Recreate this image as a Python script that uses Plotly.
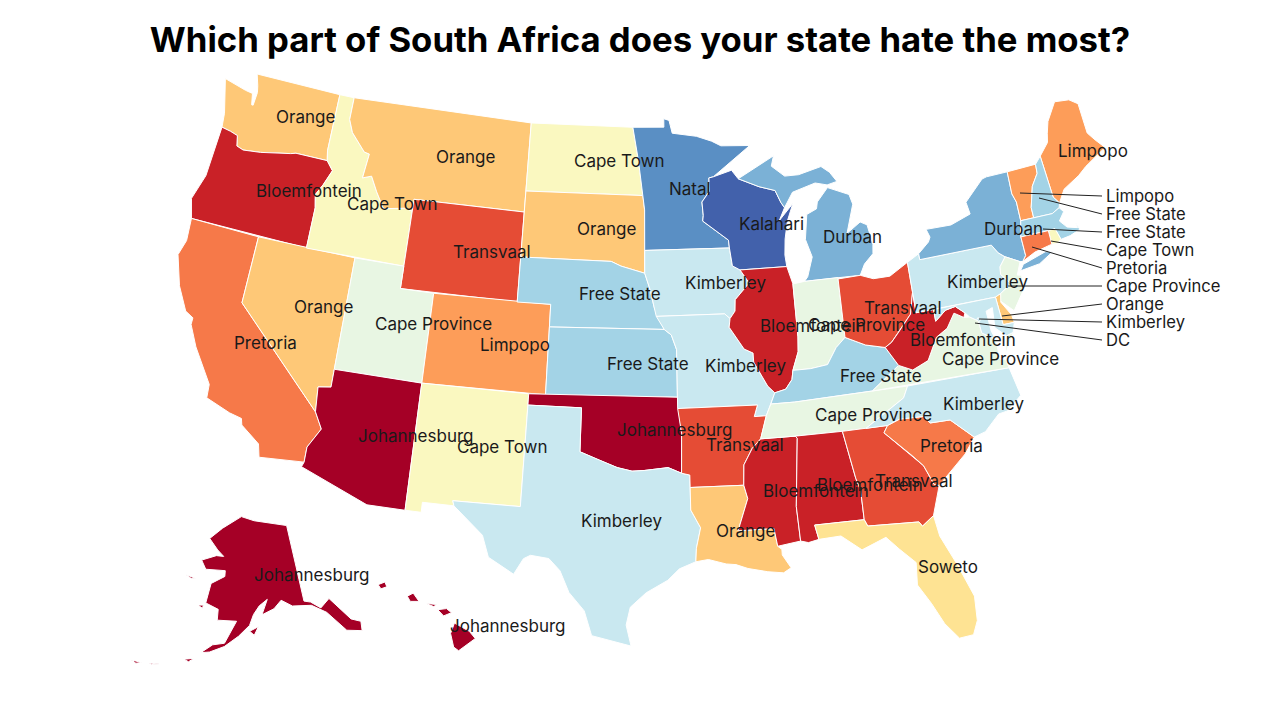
import numpy as np
import plotly.graph_objects as go

states = ["WA","OR","CA","NV","ID","MT","WY","UT","AZ","CO","NM","ND","SD","NE","KS","OK","TX",
          "MN","IA","MO","AR","LA","WI","IL","MS","MI","IN","KY","TN","AL","OH","GA","FL","SC",
          "NC","VA","WV","PA","NY","ME","VT","NH","MA","RI","CT","NJ","DE","MD","DC","AK","HI"]
regions = ["Orange","Bloemfontein","Pretoria","Orange","Cape Town","Orange","Transvaal","Cape Province",
           "Johannesburg","Limpopo","Cape Town","Cape Town","Orange","Free State","Free State","Johannesburg",
           "Kimberley","Natal","Kimberley","Kimberley","Transvaal","Orange","Kalahari","Bloemfontein",
           "Bloemfontein","Durban","Cape Province","Free State","Cape Province","Bloemfontein","Transvaal",
           "Transvaal","Soweto","Pretoria","Kimberley","Cape Province","Bloemfontein","Kimberley","Durban",
           "Limpopo","Limpopo","Free State","Free State","Cape Town","Pretoria","Cape Province","Orange",
           "Kimberley","Kimberley","Johannesburg","Johannesburg"]
region_order = ["Johannesburg","Bloemfontein","Transvaal","Pretoria","Limpopo","Orange","Soweto","Cape Town",
                "Cape Province","Kimberley","Free State","Durban","Natal","Kalahari"]
region_colors = ["#a50026","#c92127","#e54c35","#f67949","#fd9d59","#fec877","#fee393","#faf8c0",
                 "#e8f6e3","#c9e8f0","#a3d3e6","#7bb1d6","#5a8fc4","#4261ab"]

# small states labelled off to the right, top to bottom
side_regions = ["Limpopo","Free State","Free State","Cape Town","Pretoria","Cape Province","Orange","Kimberley","DC"]

# plotly's topojson sits on a CDN and can't load offline, so rough lon/lat outlines by hand
# None starts a new island / separate piece
outlines = {
    "WA": [(-124.7,48.4),(-123.2,48.15),(-122.7,48.1),(-122.55,47.6),(-122.45,47.6),(-122.4,48.2),(-122.5,48.5),(-122.75,49.0),(-117.03,49.0),(-117.04,46.42),(-116.92,45.99),(-118.98,46.0),(-119.3,45.93),(-121.2,45.65),(-122.3,45.55),(-122.75,45.65),(-122.9,46.1),(-123.4,46.2),(-124.0,46.27),(-124.1,46.9)],
    "OR": [(-124.0,46.27),(-123.4,46.2),(-122.9,46.1),(-122.75,45.65),(-122.3,45.55),(-121.2,45.65),(-119.3,45.93),(-118.98,46.0),(-116.92,45.99),(-116.46,45.6),(-116.85,44.9),(-117.2,44.4),(-117.03,43.83),(-117.03,42.0),(-124.2,42.0),(-124.55,42.85),(-124.1,44.0)],
    "CA": [(-124.2,42.0),(-120.0,42.0),(-120.0,39.0),(-114.63,35.0),(-114.14,34.3),(-114.72,33.4),(-114.72,32.72),(-117.12,32.53),(-117.3,33.1),(-118.4,33.75),(-118.5,34.03),(-119.2,34.15),(-120.6,34.55),(-120.65,35.15),(-121.9,36.6),(-122.5,37.5),(-122.5,37.8),(-123.0,38.0),(-123.75,39.0),(-124.35,40.3),(-124.1,41.0)],
    "NV": [(-120,42),(-114.04,42),(-114.04,36.2),(-114.75,36.1),(-114.63,35.0),(-120,39)],
    "ID": [(-117.03,49),(-116.05,49),(-116.05,48.0),(-115.7,47.45),(-114.7,46.7),(-114.35,46.65),(-114.5,45.55),(-113.95,45.7),(-113.45,45.05),(-112.85,44.37),(-111.5,44.55),(-111.05,44.47),(-111.05,42.0),(-117.03,42.0),(-117.03,43.83),(-117.2,44.4),(-116.85,44.9),(-116.46,45.6),(-116.92,45.99),(-117.04,46.42)],
    "MT": [(-116.05,49),(-104.05,49),(-104.05,45),(-111.05,45),(-111.05,44.47),(-111.5,44.55),(-112.85,44.37),(-113.45,45.05),(-113.95,45.7),(-114.5,45.55),(-114.35,46.65),(-114.7,46.7),(-115.7,47.45),(-116.05,48.0)],
    "WY": [(-111.05,45),(-104.05,45),(-104.05,41),(-111.05,41)],
    "UT": [(-114.04,42),(-111.05,42),(-111.05,41),(-109.05,41),(-109.05,37),(-114.04,37)],
    "AZ": [(-114.04,37),(-109.05,37),(-109.05,31.33),(-111.07,31.33),(-114.81,32.5),(-114.72,32.72),(-114.72,33.4),(-114.14,34.3),(-114.63,35.0),(-114.75,36.1),(-114.04,36.2)],
    "CO": [(-109.05,41),(-102.05,41),(-102.05,37),(-109.05,37)],
    "NM": [(-109.05,37),(-103.0,37),(-103.04,32),(-106.62,32),(-106.53,31.78),(-108.2,31.78),(-108.2,31.33),(-109.05,31.33)],
    "ND": [(-104.05,49),(-97.23,49),(-96.85,47.5),(-96.56,45.94),(-104.05,45.94)],
    "SD": [(-104.05,45.94),(-96.56,45.94),(-96.45,45.3),(-96.45,42.49),(-97.9,42.8),(-98.5,43.0),(-104.05,43.0)],
    "NE": [(-104.05,43),(-98.5,43),(-97.9,42.8),(-96.45,42.49),(-96.1,41.7),(-95.9,41.0),(-95.31,40.0),(-102.05,40),(-102.05,41),(-104.05,41)],
    "KS": [(-102.05,40),(-95.31,40),(-94.9,39.75),(-94.61,39.1),(-94.62,37),(-102.05,37)],
    "OK": [(-103.0,37),(-94.62,37),(-94.43,35.4),(-94.48,33.64),(-95.2,33.9),(-96.5,33.78),(-97.15,33.75),(-97.95,33.9),(-98.9,34.2),(-100,34.56),(-100,36.5),(-103,36.5)],
    "TX": [(-106.62,32),(-103.04,32),(-103,36.5),(-100,36.5),(-100,34.56),(-98.9,34.2),(-97.95,33.9),(-97.15,33.75),(-96.5,33.78),(-95.2,33.9),(-94.48,33.64),(-94.04,33.55),(-94.04,32),(-93.55,31.2),(-93.8,30.3),(-93.85,29.7),(-94.7,29.4),(-95.3,28.9),(-96.4,28.35),(-97.2,27.7),(-97.4,26.9),(-97.15,25.96),(-99.1,26.4),(-99.5,27.5),(-100.3,28.3),(-100.8,29.25),(-101.4,29.77),(-102.35,29.87),(-102.7,29.7),(-103.15,28.98),(-104.5,29.65),(-104.9,30.6),(-106.53,31.78)],
    "MN": [(-97.23,49),(-95.15,49),(-95.15,49.38),(-94.8,49.3),(-94.6,48.72),(-93.0,48.55),(-92.0,48.3),(-91.4,48.07),(-89.5,48.0),(-92.0,46.7),(-92.29,46.66),(-92.29,46.07),(-92.8,45.6),(-92.75,45.0),(-92.8,44.75),(-91.25,43.85),(-91.22,43.5),(-96.45,43.5),(-96.45,45.3),(-96.56,45.94),(-96.85,47.5)],
    "IA": [(-96.45,43.5),(-91.22,43.5),(-91.1,42.7),(-90.65,42.5),(-90.15,41.9),(-91.05,41.2),(-91.1,40.7),(-91.42,40.38),(-91.72,40.6),(-95.77,40.58),(-95.9,41.0),(-96.1,41.7),(-96.45,42.49)],
    "MO": [(-95.77,40.58),(-91.72,40.6),(-91.42,40.38),(-91.5,40.0),(-90.7,39.0),(-90.2,38.8),(-90.2,38.4),(-89.5,37.3),(-89.13,36.98),(-89.4,36.5),(-89.7,36.0),(-90.37,36.0),(-90.15,36.5),(-94.62,36.5),(-94.62,37),(-94.61,39.1),(-94.9,39.75),(-95.31,40)],
    "AR": [(-94.62,36.5),(-90.15,36.5),(-90.37,36.0),(-89.7,36.0),(-90.1,35.0),(-90.6,34.6),(-91.1,33.9),(-91.17,33.0),(-94.04,33.0),(-94.04,33.55),(-94.48,33.64),(-94.43,35.4)],
    "LA": [(-94.04,33.0),(-91.17,33.0),(-91.0,32.4),(-91.6,31.0),(-89.73,31.0),(-89.6,30.2),(-89.4,30.05),(-89.4,29.8),(-89.0,29.2),(-89.4,29.0),(-90.2,29.1),(-91.2,29.3),(-91.8,29.5),(-92.3,29.55),(-93.2,29.78),(-93.85,29.7),(-93.8,30.3),(-93.55,31.2),(-94.04,32)],
    "WI": [(-92.29,46.66),(-92.0,46.7),(-90.8,46.95),(-90.4,46.55),(-89.1,46.13),(-88.1,45.9),(-87.8,45.35),(-87.6,45.1),(-88.0,44.55),(-87.05,45.25),(-87.5,44.5),(-87.75,43.7),(-87.85,43.0),(-87.8,42.49),(-90.65,42.5),(-91.1,42.7),(-91.22,43.5),(-91.25,43.85),(-92.8,44.75),(-92.75,45.0),(-92.8,45.6),(-92.29,46.07)],
    "IL": [(-90.65,42.5),(-87.8,42.49),(-87.53,41.7),(-87.53,39.35),(-87.6,38.7),(-88.0,37.9),(-88.1,37.5),(-88.5,37.1),(-89.13,36.98),(-89.5,37.3),(-90.2,38.4),(-90.2,38.8),(-90.7,39.0),(-91.5,40.0),(-91.42,40.38),(-91.1,40.7),(-91.05,41.2),(-90.15,41.9)],
    "MS": [(-90.1,35.0),(-88.2,35.0),(-88.1,34.9),(-88.47,31.9),(-88.4,30.35),(-89.6,30.2),(-89.73,31.0),(-91.6,31.0),(-91.0,32.4),(-91.17,33.0),(-91.1,33.9),(-90.6,34.6)],
    "AL": [(-88.2,35.0),(-85.6,35.0),(-85.18,32.87),(-85.0,32.3),(-85.0,31.0),(-87.6,31.0),(-87.45,30.35),(-88.0,30.25),(-88.4,30.35),(-88.47,31.9),(-88.1,34.9)],
    "MI": [(-86.82,41.76),(-84.8,41.76),(-83.45,41.73),(-83.1,42.2),(-82.5,42.6),(-82.42,43.0),(-82.6,43.9),(-83.0,44.07),(-83.9,43.65),(-83.3,44.9),(-83.45,45.35),(-84.75,45.78),(-85.5,45.2),(-85.6,44.9),(-86.25,44.7),(-86.5,43.6),(-86.2,42.8),(-86.6,41.95),None,
           (-90.4,46.55),(-89.1,46.13),(-88.1,45.9),(-87.8,45.35),(-87.6,45.1),(-87.0,45.75),(-85.5,46.05),(-84.75,45.9),(-84.1,46.0),(-84.5,46.45),(-85.0,46.75),(-86.5,46.5),(-87.4,46.5),(-88.2,47.0),(-88.0,47.45),(-89.6,46.85)],
    "IN": [(-87.53,41.7),(-86.82,41.76),(-84.8,41.76),(-84.82,39.1),(-85.4,38.7),(-86.0,38.0),(-87.0,37.9),(-88.0,37.9),(-87.6,38.7),(-87.53,39.35)],
    "OH": [(-84.8,41.7),(-83.45,41.73),(-82.7,41.5),(-81.7,41.5),(-80.52,41.98),(-80.52,40.64),(-80.85,39.7),(-81.7,39.0),(-82.2,38.6),(-82.6,38.42),(-83.7,38.65),(-84.82,39.1)],
    "KY": [(-89.13,36.98),(-88.5,37.1),(-88.1,37.5),(-88.0,37.9),(-87.0,37.9),(-86.0,38.0),(-85.4,38.7),(-84.82,39.1),(-83.7,38.65),(-82.6,38.42),(-82.0,37.55),(-83.67,36.6),(-88.05,36.5),(-89.4,36.5)],
    "TN": [(-89.7,36.0),(-89.4,36.5),(-88.05,36.5),(-83.67,36.6),(-81.68,36.59),(-82.0,36.1),(-84.3,35.0),(-85.6,35.0),(-88.2,35.0),(-90.1,35.0)],
    "GA": [(-85.6,35.0),(-83.1,35.0),(-83.35,34.7),(-82.0,33.5),(-81.5,33.0),(-81.1,32.1),(-80.85,32.03),(-81.4,30.75),(-82.05,30.36),(-82.2,30.57),(-84.86,30.7),(-85.0,31.0),(-85.0,32.3),(-85.18,32.87)],
    "FL": [(-87.6,31.0),(-85.0,31.0),(-84.86,30.7),(-82.2,30.57),(-82.05,30.36),(-81.4,30.75),(-81.25,29.8),(-80.6,28.4),(-80.03,26.9),(-80.1,25.8),(-80.4,25.2),(-81.1,25.15),(-81.7,25.9),(-82.2,26.9),(-82.75,27.8),(-82.65,28.8),(-83.4,29.5),(-84.0,30.1),(-85.3,29.68),(-86.3,30.4),(-87.45,30.35)],
    "SC": [(-83.1,35.0),(-82.4,35.2),(-81.05,35.15),(-80.78,34.82),(-79.67,34.8),(-78.55,33.86),(-79.2,33.2),(-79.9,32.7),(-80.85,32.03),(-81.1,32.1),(-81.5,33.0),(-82.0,33.5),(-83.35,34.7)],
    "NC": [(-84.3,35.0),(-83.1,35.0),(-82.4,35.2),(-81.05,35.15),(-80.78,34.82),(-79.67,34.8),(-78.55,33.86),(-77.9,34.0),(-77.0,34.65),(-76.5,34.7),(-75.6,35.25),(-75.9,36.55),(-81.68,36.59),(-82.0,36.1)],
    "VA": [(-83.67,36.6),(-75.9,36.55),(-76.0,36.95),(-76.3,37.0),(-76.3,37.9),(-77.0,38.3),(-77.05,38.85),(-77.5,39.1),(-77.83,39.13),(-78.35,39.4),(-78.9,38.8),(-79.6,38.5),(-80.3,37.55),(-81.25,37.25),(-82.0,37.55),None,
           (-75.24,38.03),(-75.65,37.95),(-75.95,37.15)],
    "WV": [(-82.6,38.42),(-82.2,38.6),(-81.7,39.0),(-80.85,39.7),(-80.52,40.64),(-80.52,39.72),(-79.48,39.72),(-79.48,39.2),(-78.8,39.6),(-78.2,39.68),(-77.72,39.32),(-77.83,39.13),(-78.35,39.4),(-78.9,38.8),(-79.6,38.5),(-80.3,37.55),(-81.25,37.25),(-82.0,37.55)],
    "PA": [(-80.52,41.98),(-79.76,42.27),(-79.76,42.0),(-75.35,42.0),(-75.05,41.6),(-74.7,41.36),(-75.13,40.98),(-75.2,40.65),(-74.72,40.15),(-75.45,39.82),(-75.79,39.72),(-80.52,39.72),(-80.52,40.64)],
    "NY": [(-79.76,42.27),(-79.05,42.7),(-78.9,42.9),(-79.05,43.27),(-77.5,43.25),(-76.2,43.55),(-76.3,44.1),(-75.0,44.95),(-74.7,45.0),(-73.35,45.0),(-73.4,44.0),(-73.25,43.6),(-73.27,42.75),(-73.5,42.05),(-73.49,41.2),(-73.73,40.98),(-73.9,41.0),(-74.7,41.36),(-75.05,41.6),(-75.35,42.0),(-79.76,42.0),None,
           (-74.0,40.6),(-73.75,40.85),(-72.3,41.15),(-71.87,41.07),(-72.8,40.7)],
    "ME": [(-71.08,45.3),(-70.4,45.8),(-70.25,46.2),(-70.0,46.7),(-69.23,47.46),(-68.3,47.36),(-67.8,47.07),(-67.8,45.7),(-67.45,45.3),(-67.0,44.85),(-68.5,44.3),(-69.1,44.0),(-70.2,43.6),(-70.7,43.07),(-70.98,43.4)],
    "VT": [(-73.35,45.0),(-71.5,45.01),(-71.55,44.6),(-72.05,44.1),(-72.45,43.2),(-72.46,42.73),(-73.27,42.75),(-73.25,43.6),(-73.4,44.0)],
    "NH": [(-71.5,45.01),(-71.08,45.3),(-70.98,43.4),(-70.7,43.07),(-70.8,42.87),(-71.3,42.7),(-72.46,42.73),(-72.45,43.2),(-72.05,44.1),(-71.55,44.6)],
    "MA": [(-73.27,42.75),(-71.3,42.7),(-70.8,42.87),(-70.6,42.65),(-71.0,42.3),(-70.65,41.95),(-70.05,41.8),(-70.1,42.05),(-69.95,41.7),(-70.6,41.55),(-71.2,41.5),(-71.38,42.02),(-71.8,42.02),(-73.5,42.05)],
    "RI": [(-71.8,42.02),(-71.38,42.02),(-71.2,41.5),(-71.5,41.37),(-71.8,41.4)],
    "CT": [(-73.5,42.05),(-71.8,42.02),(-71.8,41.4),(-72.9,41.25),(-73.73,40.98),(-73.49,41.2)],
    "NJ": [(-74.7,41.36),(-73.9,41.0),(-74.25,40.45),(-74.0,40.4),(-74.1,39.75),(-74.9,38.95),(-75.55,39.5),(-75.45,39.82),(-74.72,40.15),(-75.2,40.65),(-75.13,40.98)],
    "DE": [(-75.79,39.72),(-75.45,39.82),(-75.55,39.45),(-75.1,38.8),(-75.05,38.45),(-75.7,38.46)],
    "MD": [(-79.48,39.72),(-75.79,39.72),(-75.7,38.46),(-75.05,38.45),(-75.24,38.03),(-75.65,37.95),(-76.2,38.4),(-76.1,39.3),(-76.5,39.2),(-76.45,38.3),(-76.3,37.9),(-77.0,38.3),(-77.05,38.85),(-77.5,39.1),(-77.72,39.32),(-78.2,39.68),(-78.8,39.6),(-79.48,39.2)],
    "DC": [(-77.12,38.93),(-77.04,39.0),(-76.91,38.89),(-77.04,38.79)],
    "AK": [(-141,69.65),(-141,60.3),(-139.5,60.0),(-137.5,59.0),(-135,59.8),(-133.5,58.4),(-131.8,56.6),(-130,55.9),(-130.5,54.8),(-133.5,55.5),(-135.5,57.5),(-136.5,58.3),(-139.5,59.6),(-144,60),(-146.5,60.9),(-148.5,60),(-151.5,59.4),(-149.9,61.2),(-152,60.5),(-153.5,59.5),(-154.5,58.2),(-157,56.9),(-160,55.6),(-163,54.8),(-164.8,54.6),(-162.5,55.7),(-160,56),(-157.5,58.7),(-162,58.7),(-162,60),(-165.2,60.6),(-164.5,63),(-161,64),(-161,64.7),(-166.5,64.6),(-168.1,65.6),(-164,66.4),(-161.8,66.4),(-163.8,67.1),(-166.8,68.35),(-163,69.8),(-156.6,71.35),(-152,70.8),None,
           (-154.5,57.5),(-152.5,58),(-153.5,57),None,(-171.5,63.5),(-168.8,63.3),(-170,63.2),None,(-167,60.2),(-165.7,60.3),(-165.8,59.9),None,(-168,53.5),(-166,53.8),(-167,53.3),None,(-174.5,52.1),(-172.5,52.3),(-174,52.0),None,(-178,51.8),(-176,51.9),(-177,51.6)],
    "HI": [(-156.05,19.75),(-155.85,20.25),(-155.1,19.85),(-154.8,19.5),(-155.65,18.92),(-155.9,19.1),None,
           (-156.7,20.9),(-156.25,20.95),(-156.0,20.75),(-156.4,20.6),None,
           (-158.25,21.55),(-157.95,21.7),(-157.65,21.3),(-158.1,21.3),None,
           (-159.75,22.1),(-159.4,22.23),(-159.3,22.0),(-159.6,21.9),None,
           (-157.3,21.2),(-156.75,21.15),(-156.9,21.05)],
}

# layout only: label centres in page pixels
label_pos = {"WA":(305,117),"OR":(309,191),"CA":(265,343),"NV":(323,307),"ID":(392,204),"MT":(465,157),
             "WY":(492,252),"UT":(433,324),"AZ":(415,436),"CO":(515,345),"NM":(502,447),"ND":(619,161),
             "SD":(606,229),"NE":(620,294),"KS":(648,364),"OK":(674,430),"TX":(621,521),"MN":(690,189),
             "IA":(725,283),"MO":(745,366),"AR":(745,445),"LA":(745,531),"WI":(771,224),"IL":(813,326),
             "MS":(816,491),"MI":(852,237),"IN":(866,325),"KY":(881,376),"TN":(873,415),"AL":(870,485),
             "OH":(903,308),"GA":(914,481),"FL":(948,567),"SC":(951,446),"NC":(983,404),"VA":(1000,359),
             "WV":(963,340),"PA":(987,282),"NY":(1013,229),"ME":(1093,151),"AK":(311,575),"HI":(507,626)}
side_y = [196,214,232,250,268,286,304,322,340]
side_from = [(1020,193),(1039,198),(1043,229),(1051,241),(1032,247),(1008,286),(1002,316),(979,319),(975,323)]


def albers(lon, lat, lon0, lat0, p1, p2):
    lon, lat, lon0, lat0, p1, p2 = map(np.radians, (lon, lat, lon0, lat0, p1, p2))
    n = (np.sin(p1) + np.sin(p2)) / 2
    c = np.cos(p1) ** 2 + 2 * n * np.sin(p1)
    rho = np.sqrt(c - 2 * n * np.sin(lat)) / n
    rho0 = np.sqrt(c - 2 * n * np.sin(lat0)) / n
    th = n * (lon - lon0)
    return rho * np.sin(th), rho0 - rho * np.cos(th)


def lonlat(st):
    pts = [(np.nan, np.nan) if p is None else p for p in outlines[st]]
    arr = []
    # close each piece so the white border runs all the way round
    start = None
    for p in pts:
        if np.isnan(p[0]):
            arr.append(start)
            arr.append(p)
            start = None
        else:
            if start is None:
                start = p
            arr.append(p)
    arr.append(start)
    arr = np.array(arr, dtype=float)
    return arr[:, 0], arr[:, 1]


# fit the lower 48 into the same box as the reference
xs, ys = [], []
for st in states:
    if st not in ("AK", "HI"):
        x, y = albers(*lonlat(st), -96.6, 38.7, 29.5, 45.5)
        xs.append(x)
        ys.append(y)
xs, ys = np.concatenate(xs), np.concatenate(ys)
K = (1105 - 178) / (np.nanmax(xs) - np.nanmin(xs))
CX = 178 - K * np.nanmin(xs)
CY = 74 + K * np.nanmax(ys)


def project(st):
    lon, lat = lonlat(st)
    if st == "AK":
        x, y = albers(lon, lat, -156, 58.5, 55, 65)
        return 243 + 0.37 * K * x, 623 - 0.37 * K * y
    if st == "HI":
        x, y = albers(lon, lat, -157.5, 20.5, 8, 18)
        return 422 + 0.93 * K * x, 618 - 0.93 * K * y
    x, y = albers(lon, lat, -96.6, 38.7, 29.5, 45.5)
    return CX + K * x, CY - K * y


color_of = dict(zip(region_order, region_colors))
fig = go.Figure()
for st, reg in zip(states, regions):
    px, py = project(st)
    fig.add_trace(go.Scatter(x=px, y=py, mode="lines", fill="toself", fillcolor=color_of[reg],
                             line=dict(color="white", width=1), name=st, text=reg,
                             hoverinfo="text", showlegend=False))

for st, (x, y) in label_pos.items():
    fig.add_annotation(x=x, y=y, text=regions[states.index(st)], showarrow=False,
                       font=dict(size=17, color="#1a1a1a"))

for reg, y, (x0, y0) in zip(side_regions, side_y, side_from):
    fig.add_shape(type="line", x0=x0, y0=y0, x1=1102, y1=y, line=dict(color="#222222", width=1))
    fig.add_annotation(x=1104, y=y, text=reg, showarrow=False, xanchor="left",
                       font=dict(size=16.6, color="#1a1a1a"))

# the page body has an 8px margin, so the axes run 8..1288 to keep page pixels
fig.update_layout(
    width=1280, height=720,
    margin=dict(l=0, r=0, t=0, b=0),
    font=dict(family="Inter"),
    paper_bgcolor="white", plot_bgcolor="white",
    title=dict(text="<b>Which part of South Africa does your state hate the most?</b>",
               x=632 / 1280, y=1 - 32 / 720, xanchor="center", yanchor="middle",
               font=dict(size=34.7, color="black")),
    xaxis=dict(range=[8, 1288], visible=False),
    yaxis=dict(range=[728, 8], visible=False),
)
fig.write_html("out.html")
